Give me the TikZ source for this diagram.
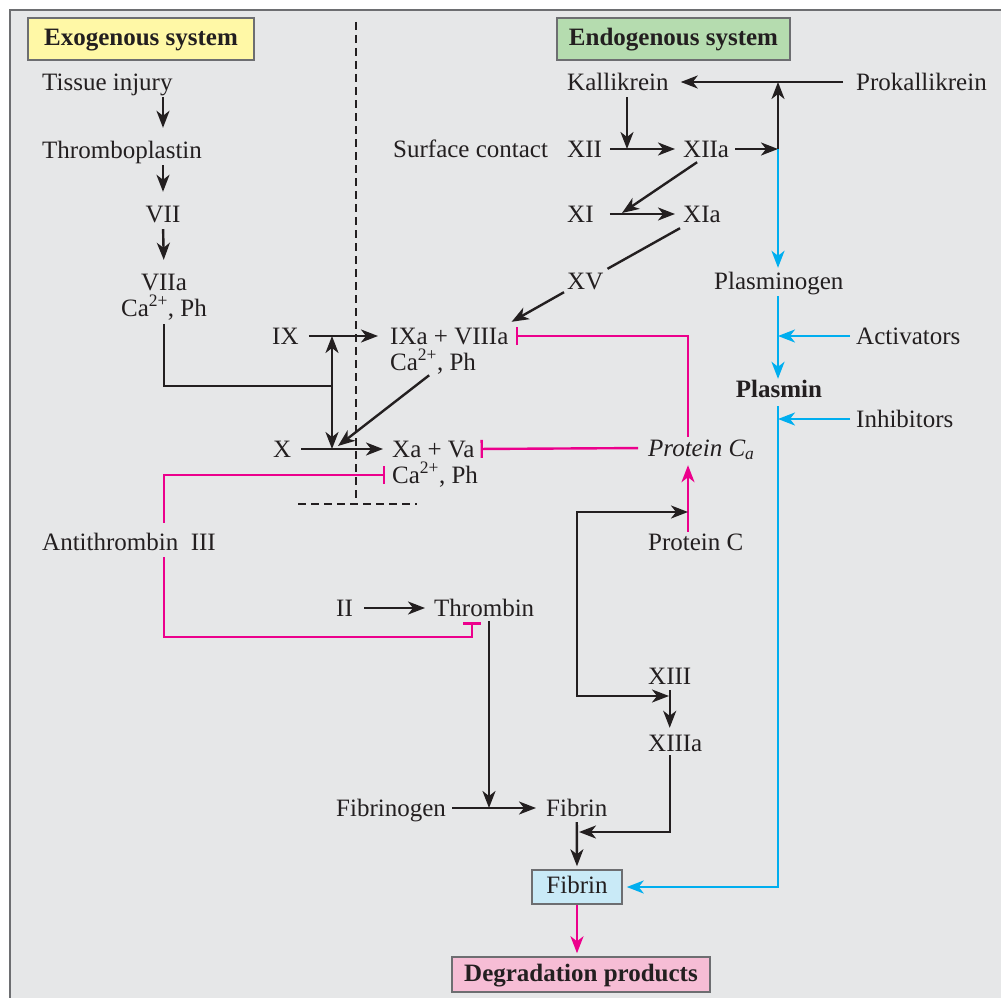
\documentclass[tikz,border=0pt]{standalone}
\usepackage{fontspec}
\setmainfont{Liberation Serif}
\usetikzlibrary{arrows.meta,calc}

\definecolor{ink}{HTML}{231F20}
\definecolor{panel}{HTML}{E6E7E8}
\definecolor{frame}{HTML}{6D6E71}
\definecolor{inhib}{HTML}{EC008C}
\definecolor{lysis}{HTML}{00AEEF}
\definecolor{exofill}{HTML}{FFF8A6}
\definecolor{endofill}{HTML}{B5DCAF}
\definecolor{fibfill}{HTML}{C9EAF7}
\definecolor{degfill}{HTML}{F6BDD5}

\tikzset{
  lbl/.style={inner sep=0pt,text height=18pt,text depth=2pt,anchor=west,text=ink},
  lblc/.style={lbl,anchor=center},
  box/.style={draw=frame,line width=1.5pt,inner sep=0pt,text height=18pt,text depth=5pt,text=ink},
  hdr/.style={box,minimum height=42pt,font=\bfseries},
  ln/.style={draw=ink,line width=2.4pt},
  arr/.style={ln,-{Stealth[length=17pt,width=13pt,inset=5pt]}},
  twoway/.style={ln,{Stealth[length=17pt,width=13pt,inset=5pt]}-{Stealth[length=17pt,width=13pt,inset=5pt]}},
  down/.style={arr,shorten <=5pt,shorten >=12pt},
  blu/.style={draw=lysis,line width=2.4pt,-{Stealth[length=17pt,width=13pt,inset=5pt]}},
  inh/.style={draw=inhib,line width=2.4pt,-{Bar[width=18pt,line width=2.4pt]}},
  pinkarr/.style={draw=inhib,line width=2.4pt,-{Stealth[length=17pt,width=13pt,inset=5pt]}},
  divide/.style={draw=ink,line width=2.2pt,dash pattern=on 8pt off 5pt},
}

\begin{document}
\fontsize{25}{30}\selectfont%
\begin{tikzpicture}[x=1pt,y=1pt,yscale=-1,xscale=1]
	\useasboundingbox (0,0) rectangle (1001,998);
	%Panel
	\fill[panel] (10,10) rectangle (1001,998);
	\draw[frame,line width=2pt] (10,998) -- (10,10) -- (1001,10);

	% Exogenous side
	\node[hdr,fill=exofill,minimum width=226pt] (exo) at (141,39) {Exogenous system};
	\node[lbl] (tissue) at (42,82) {Tissue injury};
	\node[lbl] (thrombo) at (42,150) {Thromboplastin};
	\node[lblc] (vii) at (163,214) {VII};
	\node[lblc] (viia) at (164,282) {VIIa};
	\node[lblc] (caA) at (164,308) {Ca\textsuperscript{2+}, Ph};
	\node[lbl] (ix) at (272,336) {IX};
	\node[lbl] (ixa) at (390,336) {IXa + VIIIa};
	\node[lbl] (caB) at (390,362) {Ca\textsuperscript{2+}, Ph};
	\node[lbl] (x) at (273,449) {X};
	\node[lbl] (xa) at (392,449) {Xa + Va};
	\node[lbl] (caC) at (392,475) {Ca\textsuperscript{2+}, Ph};
	\node[lbl] (anti) at (42,542) {Antithrombin\ \ III};
	\node[lbl] (ii) at (336,608) {II};
	\node[lbl] (thr) at (434,608) {Thrombin};
	\node[lbl] (fgn) at (336,808) {Fibrinogen};
	\node[lbl] (fib) at (546,808) {Fibrin};
	\node[box,fill=fibfill,minimum width=90pt,minimum height=34pt] (fibbox) at (577,887) {Fibrin};
	\node[box,fill=degfill,minimum width=258pt,minimum height=35pt,font=\bfseries] (deg) at (581,974.5) {Degradation products};

	% Endogenous side
	\node[hdr,fill=endofill,minimum width=233pt] (endo) at (673.5,39) {Endogenous system};
	\node[lbl] (kall) at (567,82) {Kallikrein};
	\node[lbl] (prok) at (856,82) {Prokallikrein};
	\node[lbl] (surf) at (393,149) {Surface contact};
	\node[lbl] (xii) at (567,149) {XII};
	\node[lbl] (xiia) at (683,149) {XIIa};
	\node[lbl] (xi) at (567,214) {XI};
	\node[lbl] (xia) at (683,214) {XIa};
	\node[lbl] (xv) at (567,281) {XV};
	\node[lbl] (plg) at (714,281) {Plasminogen};
	\node[lbl] (act) at (856,336) {Activators};
	\node[lblc,font=\bfseries] (plm) at (779,389) {Plasmin};
	\node[lbl] (inhb) at (856,419) {Inhibitors};
	\node[lbl] (pca) at (648,448) {\itshape Protein C\textsubscript{a}};
	\node[lbl] (pc) at (648,542) {Protein C};
	\node[lbl] (xiii) at (648,676) {XIII};
	\node[lbl] (xiiia) at (648,743) {XIIIa};

	% Junctions
	\coordinate (jv) at (332,386);
	\coordinate (jx) at (338,446);
	\coordinate (jat) at (472,637);
	\coordinate (jf) at (489,808);
	\coordinate (jfb) at (579,832);
	\coordinate (jpk) at (688,512);
	\coordinate (jl) at (577,696);
	\coordinate (jxiii) at (669,696);
	\coordinate (jk) at (627,149);
	\coordinate (jpl) at (778,149);
	\coordinate (jxi) at (622,213);

	%Dividers
	\draw[divide] (356,22) -- (356,504);
	\draw[divide] (298,504) -- (417,504);

	%Exogenous chain
	\draw[down] (tissue.south -| vii) -- (thrombo.north -| vii);
	\draw[down] (thrombo.south -| vii) -- (vii.north);
	\draw[down] (vii.south) -- (viia.north);
	\draw[ln,shorten <=6pt] (caA.south) |- (jv);
	\draw[twoway] (jv |- ix.east) -- (jv |- x.east);
	\draw[arr,shorten <=10pt,shorten >=12pt] (ix.east) -- (ixa.west);
	\draw[arr,shorten <=10pt,shorten >=9pt] (x.east) -- (xa.west);
	\draw[arr,shorten <=5pt] (caB.south) -- (jx);
	\draw[arr,shorten <=11pt,shorten >=9pt] (ii.east) -- (thr.west);
	\draw[arr,shorten <=3pt] (thr.south -| jf) -- (jf);
	\draw[arr,shorten <=6pt,shorten >=10pt] (fgn.east) -- (fib.west);
	\draw[arr,shorten <=4pt,shorten >=3pt] (fib.south) -- (fibbox.north);

	%Inhibition lines
	\draw[inh,shorten <=9pt,shorten >=7pt] (anti.north -| caA) |- (caC.west);
	\draw[inh,shorten <=5pt,shorten >=4pt] (anti.south -| caA) |- (jat) -- (jat |- thr.south);
	\draw[inh,shorten <=1pt,shorten >=7pt] (jpk |- pca.north) |- (ixa.east);
	\draw[inh,shorten <=10pt,shorten >=6pt] (pca.west) -- (xa.east);
	\draw[pinkarr,shorten >=7pt] (jpk |- pc.north) -- (jpk |- pca.south);
	\draw[pinkarr,shorten >=3pt] (fibbox.south) -- (fibbox.south |- deg.north);

	%Protein C and XIII
	\draw[twoway] (jpk) -| (jl) -- (jxiii);
	\draw[arr,shorten <=4pt,shorten >=5pt] (xiii.south) -- (xiii.south |- xiiia.north);
	\draw[arr,shorten <=2pt] (xiiia.south -| xiii) |- (jfb);

	%Endogenous chain
	\draw[arr,shorten <=13pt,shorten >=12pt] (prok.west) -- (kall.east);
	\draw[arr] (jpl) -- (jpl |- kall.east);
	\draw[arr,shorten <=5pt] (kall.south -| jk) -- (jk);
	\draw[arr,shorten <=8pt,shorten >=8pt] (xii.east) -- (xiia.west);
	\draw[arr,shorten <=6pt] (xiia.east) -- (jpl);
	\draw[arr] ([shift={(-9,3)}]xiia.south) -- (jxi);
	\draw[arr,shorten <=16pt,shorten >=8pt] (xi.east) -- (xia.west);
	\draw[ln] ([shift={(-3,4)}]xia.south west) -- ([shift={(4,-2)}]xv.north east);
	\draw[arr] ([shift={(-3,1)}]xv.south west) -- ([shift={(3,-4)}]ixa.north east);

	%Fibrinolysis
	\draw[blu,shorten >=3pt] (jpl) -- (jpl |- plg.north);
	\draw[blu,shorten <=5pt] (plg.south -| jpl) -- (plm.north -| jpl);
	\draw[blu,shorten <=6pt] (act.west) -- (act.west -| jpl);
	\draw[blu,shorten <=6pt] (inhb.west) -- (inhb.west -| jpl);
	\draw[blu,shorten <=7pt,shorten >=4pt] (plm.south -| jpl) |- (fibbox.east);
\end{tikzpicture}
\end{document}
